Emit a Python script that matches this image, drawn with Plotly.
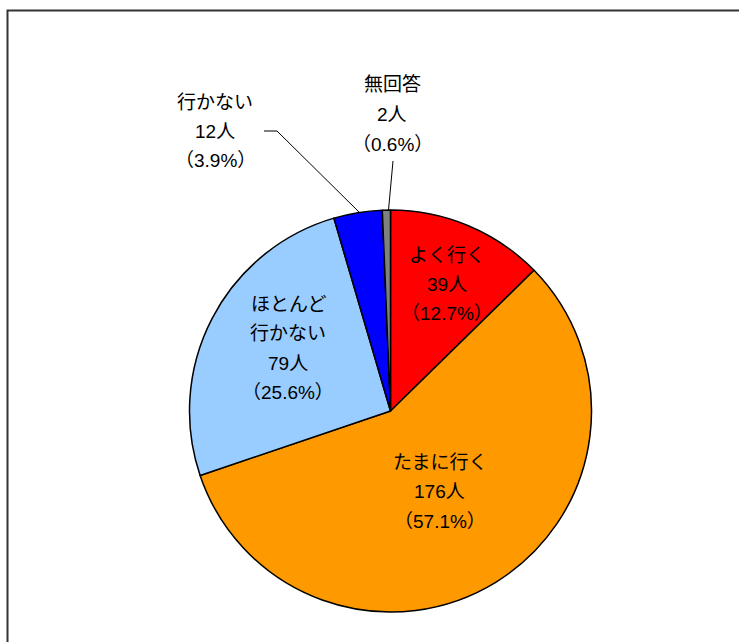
import plotly.graph_objects as go

categories = ["よく行く", "たまに行く", "ほとんど\n行かない", "行かない", "無回答"]
counts = [39, 176, 79, 12, 2]
percents = [12.7, 57.1, 25.6, 3.9, 0.6]
colors = ["#FF0000", "#FF9900", "#99CCFF", "#0000FF", "#808080"]

W, H = 739, 642
cx, cy, r = 390.5, 411, 201

fig = go.Figure(go.Pie(
    labels=categories, values=counts, sort=False, direction="clockwise", rotation=0,
    marker=dict(colors=colors, line=dict(color="black", width=1.5)),
    textinfo="none", hoverinfo="label+value+percent", showlegend=False,
    domain=dict(x=[(cx - r) / W, (cx + r) / W], y=[(H - cy - r) / H, (H - cy + r) / H]),
))

font = dict(family="Liberation Sans, Arial, Noto Sans CJK JP", size=19, color="black")
# label positions in pixels (top line centre)
label_pos = [(447, 255), (440, 462), (288, 304), (215, 102), (392, 85)]
for cat, n, p, (x, y) in zip(categories, counts, percents, label_pos):
    lines = cat.split("\n") + [f"{n}人", f"（{p}%）"]
    for i, line in enumerate(lines):
        fig.add_annotation(x=x / W, y=1 - (y + i * 29.5) / H, xref="paper", yref="paper",
                           text=line, showarrow=False, font=font, xanchor="center", yanchor="middle")

# leader lines
line_style = dict(color="black", width=1)
def px(x, y):
    return x / W, 1 - y / H
for pts in ([(264, 131), (277, 131), (359, 212)], [(393, 161), (388.5, 210)]):
    for (x0, y0), (x1, y1) in zip(pts[:-1], pts[1:]):
        a, b = px(x0, y0)
        c, d = px(x1, y1)
        fig.add_shape(type="line", xref="paper", yref="paper", x0=a, y0=b, x1=c, y1=d, line=line_style)

# outer frame
fig.add_shape(type="rect", xref="paper", yref="paper", x0=7.5 / W, y0=-0.1, x1=1.1, y1=1 - 10.5 / H,
              line=dict(color="#333333", width=2), fillcolor="rgba(0,0,0,0)")

fig.update_layout(width=W, height=H, margin=dict(l=0, r=0, t=0, b=0),
                  paper_bgcolor="white", plot_bgcolor="white")
fig.write_html("out.html", config={"displayModeBar": False},
               post_script="document.body.style.margin='0';document.body.style.overflow='hidden';")
